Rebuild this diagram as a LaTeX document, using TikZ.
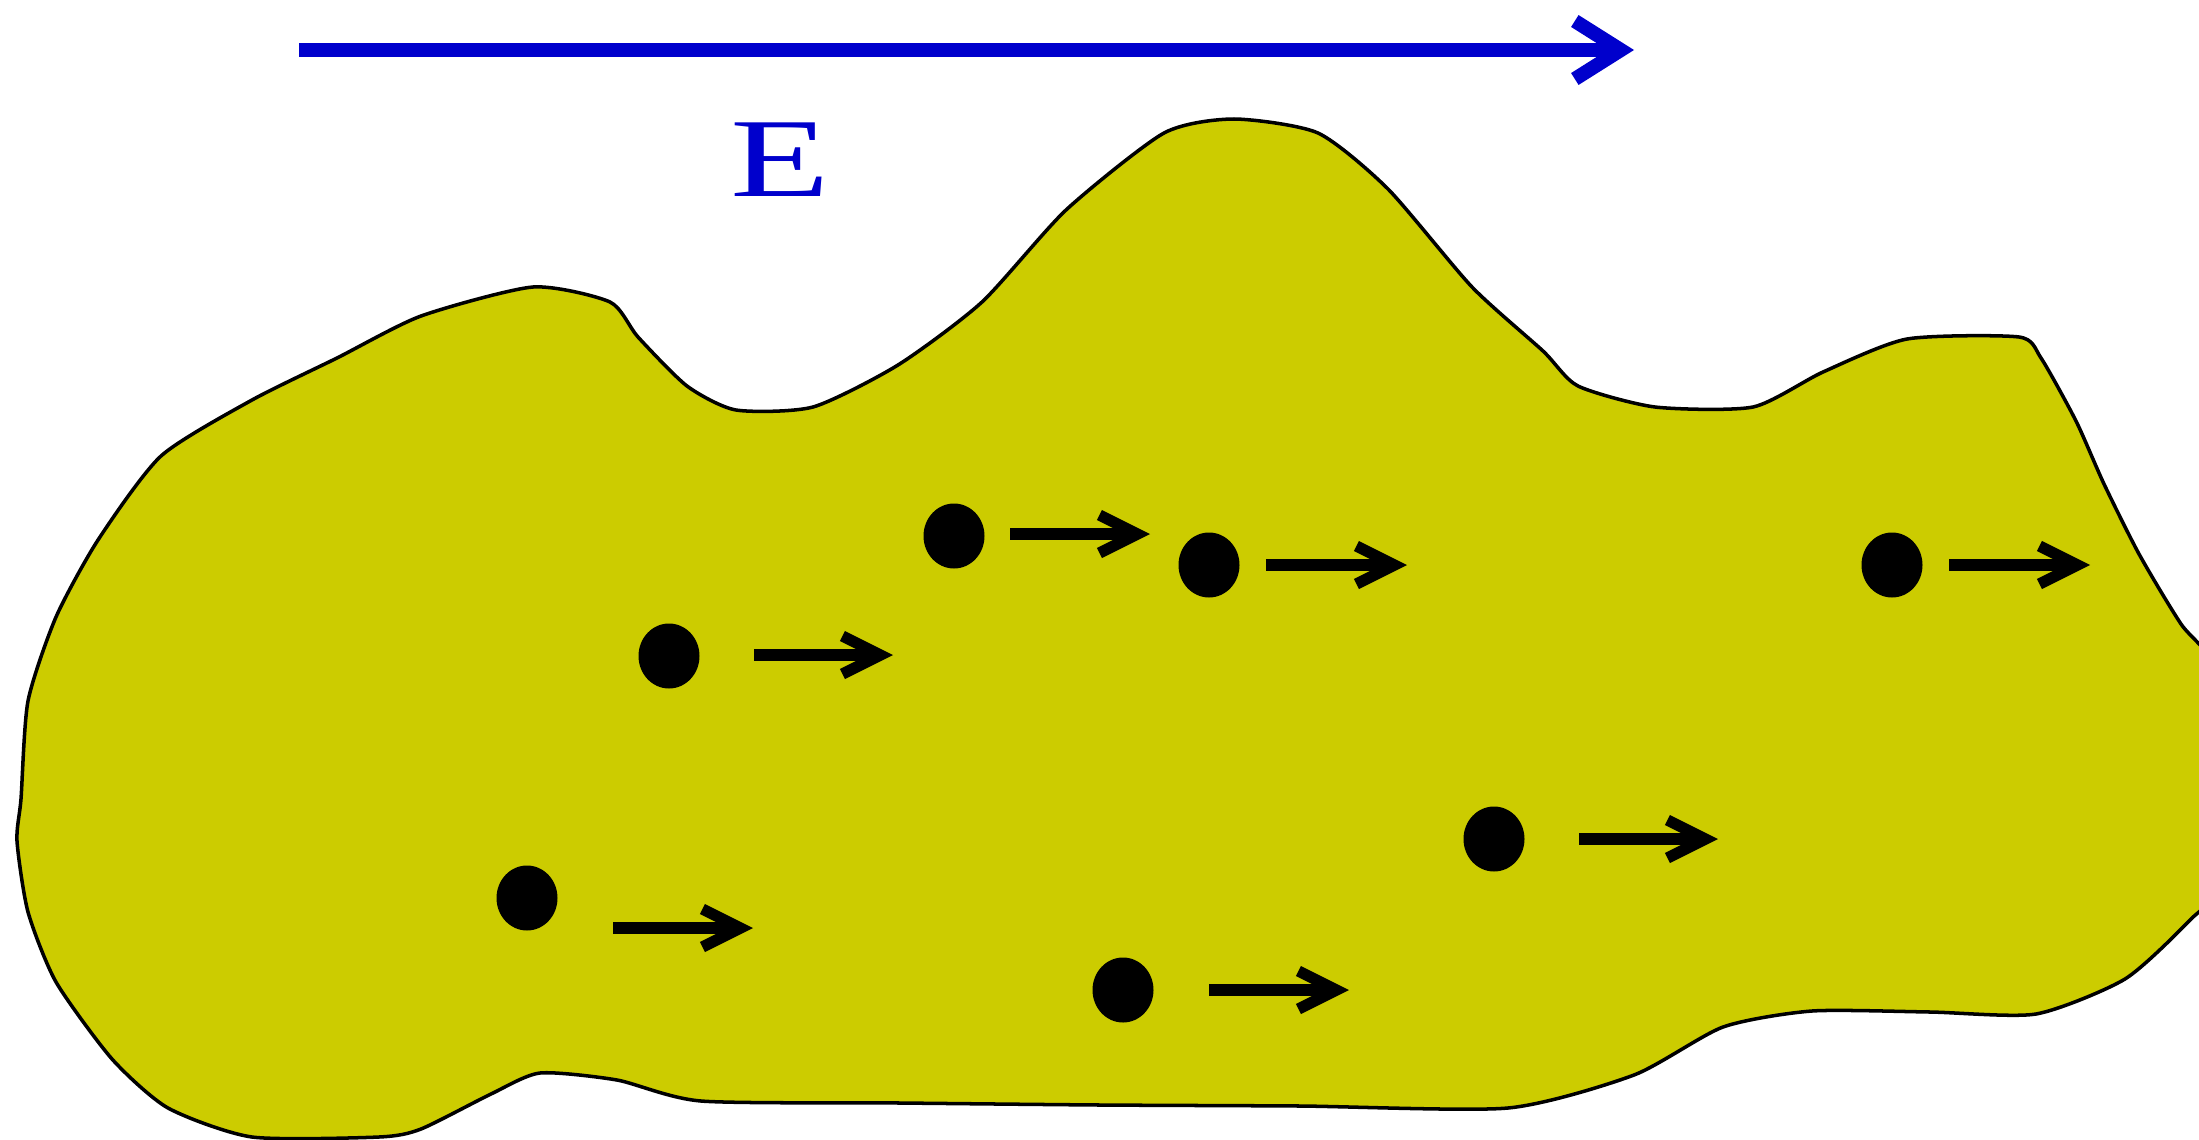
\documentclass[tikz,border=0pt]{standalone}
\usepackage{fontspec}
\usepackage{tikz}
\usetikzlibrary{arrows.meta,shapes.geometric}
\newfontfamily\timesfont{Liberation Serif}
\definecolor{grain}{RGB}{204,204,0}
\definecolor{fieldblue}{RGB}{0,0,204}
\tikzset{
  carrier/.style={ellipse,fill=black,minimum width=6.1mm,minimum height=6.5mm,inner sep=0pt},
  drift/.style={draw,line width=3.2pt,-{Straight Barb[length=3.8mm,width=3.8mm]}},
  field/.style={draw=fieldblue,line width=4pt,-{Straight Barb[length=4.6mm,width=5.8mm]}},
}
\begin{document}
\begin{tikzpicture}
\useasboundingbox (0,0) rectangle (21.99,-11.40);

% the grain
\draw[fill=grain,line width=1pt] plot[smooth cycle,tension=0.4] coordinates {
  (0.21,-7.99) (0.28,-7.01) (0.56,-6.17) (0.98,-5.40) (1.61,-4.56) (2.52,-4.00)
  (3.37,-3.58) (4.21,-3.16) (5.33,-2.87) (6.10,-3.02) (6.38,-3.37) (6.87,-3.86)
  (7.36,-4.10) (8.13,-4.07) (8.98,-3.65) (9.82,-3.02) (10.66,-2.10) (11.64,-1.33)
  (12.34,-1.19) (13.18,-1.33) (13.88,-1.89) (14.72,-2.87) (15.43,-3.51) (15.78,-3.86)
  (16.55,-4.07) (17.53,-4.07) (18.23,-3.72) (19.07,-3.39) (20.19,-3.37) (20.41,-3.58)
  (20.76,-4.21) (21.04,-4.84) (21.39,-5.54) (21.81,-6.24) (22.30,-6.90) (22.30,-8.70)
  (21.90,-9.20) (21.25,-9.79) (20.36,-10.14) (19.30,-10.12) (18.12,-10.11) (17.23,-10.27)
  (16.34,-10.75) (15.08,-11.08) (13.00,-11.06) (11.00,-11.05) (9.00,-11.03) (7.01,-11.01)
  (6.17,-10.80) (5.40,-10.73) (4.91,-10.94) (4.21,-11.29) (3.79,-11.37) (2.52,-11.37)
  (1.68,-11.08) (1.12,-10.59) (0.56,-9.82) (0.28,-9.12) (0.17,-8.41)
};

% applied field
\coordinate (f0) at (2.99,-0.50);
\coordinate (f1) at (16.34,-0.50);
\draw[field] (f0) -- (f1);
\node[text=fieldblue,font=\timesfont\fontsize{32}{36}\selectfont] (lblE) at (7.80,-1.60) {\scalebox{1.45}[1]{E}};

% charge carriers
\node[carrier] (q1) at (9.54,-5.36) {};
\node[carrier] (q2) at (12.09,-5.65) {};
\node[carrier] (q3) at (6.69,-6.56) {};
\node[carrier] (q4) at (18.92,-5.65) {};
\node[carrier] (q5) at (14.94,-8.39) {};
\node[carrier] (q6) at (5.27,-8.98) {};
\node[carrier] (q7) at (11.23,-9.90) {};

% drift directions
\coordinate (a1) at (10.10,-5.34); \coordinate (b1) at (11.50,-5.34);
\coordinate (a2) at (12.66,-5.65); \coordinate (b2) at (14.07,-5.65);
\coordinate (a3) at (7.54,-6.55);  \coordinate (b3) at (8.93,-6.55);
\coordinate (a4) at (19.49,-5.65); \coordinate (b4) at (20.90,-5.65);
\coordinate (a5) at (15.79,-8.39); \coordinate (b5) at (17.18,-8.39);
\coordinate (a6) at (6.13,-9.28);  \coordinate (b6) at (7.53,-9.28);
\coordinate (a7) at (12.09,-9.90); \coordinate (b7) at (13.49,-9.90);
\path (a1) edge[drift] (b1)
      (a2) edge[drift] (b2)
      (a3) edge[drift] (b3)
      (a4) edge[drift] (b4)
      (a5) edge[drift] (b5)
      (a6) edge[drift] (b6)
      (a7) edge[drift] (b7);

\end{tikzpicture}
\end{document}
